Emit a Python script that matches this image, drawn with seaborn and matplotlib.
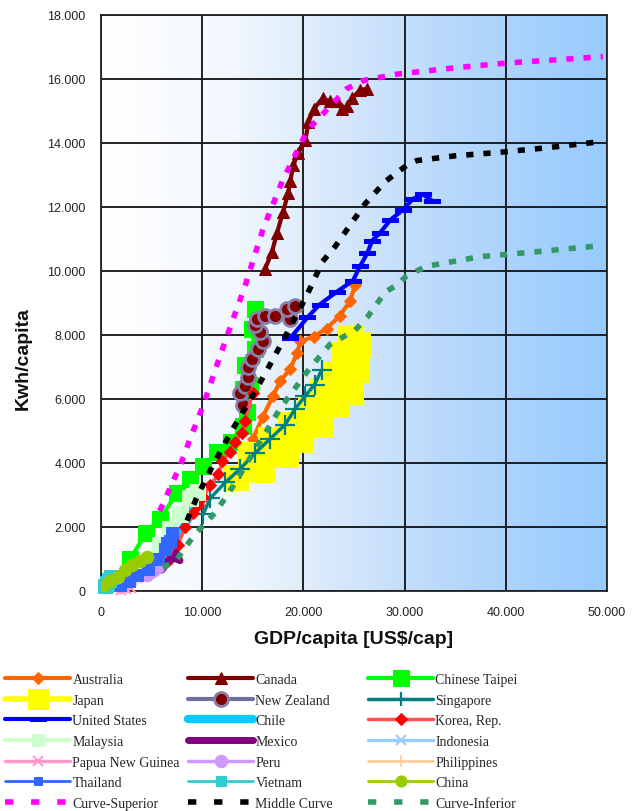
import numpy as np
import matplotlib
matplotlib.use("Agg")
import matplotlib.pyplot as plt
from matplotlib.colors import LinearSegmentedColormap
from matplotlib.ticker import FuncFormatter, MultipleLocator
import seaborn as sns

# ---- GDP per capita (US$/cap) and electricity use (kWh/capita) ----
australia_gdp = [15000, 16000, 17000, 17700, 18700, 19400, 19700, 21000, 22300, 23600, 24600, 25100]
australia_kwh = [4750, 5450, 6100, 6550, 6950, 7450, 7800, 7950, 8200, 8600, 9050, 9550]

canada_gdp = [16200, 16900, 17400, 18000, 18500, 18700, 19000, 19500, 20200, 20500, 21000, 21900,
              22600, 23300, 23800, 24300, 24800, 25600, 26300]
canada_kwh = [10050, 10600, 11200, 11850, 12450, 12800, 13300, 13700, 14100, 14650, 15050, 15400,
              15300, 15300, 15050, 15150, 15400, 15650, 15700]

taipei_gdp = [2900, 4400, 5800, 7500, 8800, 10100, 11500, 12800, 14000, 14400, 14000, 14700, 14200, 15200, 14900, 15200]
taipei_kwh = [1000, 1800, 2250, 3050, 3500, 3900, 4350, 4650, 5150, 5600, 6300, 6450, 7050, 7550, 8200, 8800]

japan_gdp = [13240, 15910, 14720, 18180, 16700, 19660, 18670, 21640, 20650, 23120, 21830, 24600,
             23120, 25100, 23910, 25290, 24600]
japan_kwh = [3560, 3810, 4280, 4280, 4750, 4750, 5220, 5220, 5690, 5840, 6250, 6250,
             6780, 6940, 7410, 7720, 7940]

nz_gdp = [14000, 13700, 14200, 14500, 14500, 14900, 15500, 16000, 15700, 15200, 15400, 16200, 17200, 18700, 18400, 19200]
nz_kwh = [5800, 6200, 6400, 6700, 7000, 7250, 7550, 7800, 8100, 8300, 8500, 8600, 8600, 8500, 8800, 8900]

singapore_gdp = [10100, 10800, 12300, 13700, 15200, 16700, 18200, 19200, 20200, 21100, 21800]
singapore_kwh = [2400, 2900, 3400, 3800, 4300, 4750, 5200, 5700, 6100, 6450, 6900]

us_gdp = [18700, 20400, 21600, 23300, 24900, 25600, 26300, 26800, 27600, 28600, 29800, 30800, 31800, 32700]
us_kwh = [7900, 8550, 8950, 9350, 9700, 10150, 10550, 10950, 11200, 11600, 11900, 12250, 12400, 12200]

chile_gdp = [6300, 7000, 7800, 8600, 9100]
chile_kwh = [1000, 1400, 1800, 2250, 2650]

korea_gdp = [6800, 7600, 8300, 9100, 9600, 10100, 10800, 11600, 12000, 12700, 13200, 13900, 14200, 15000]
korea_kwh = [1000, 1450, 2000, 2450, 2700, 2950, 3300, 3650, 4050, 4350, 4650, 4950, 5300, 6200]

malaysia_gdp = [4800, 5800, 6800, 7800, 8800, 9500]
malaysia_kwh = [850, 1450, 1950, 2400, 2900, 3100]

mexico_gdp = [6000, 6600, 7100, 7800, 7400]
mexico_kwh = [650, 900, 1050, 950, 1200]

indonesia_gdp = [1600, 2100, 2600, 3100]
indonesia_kwh = [120, 200, 300, 400]

png_gdp = [1500, 2000, 2500, 3000]
png_kwh = [60, 40, 70, 90]

peru_gdp = [4500, 4900, 5200, 5600]
peru_kwh = [500, 600, 650, 750]

philippines_gdp = [3600, 3900, 4100]
philippines_kwh = [350, 400, 450]

thailand_gdp = [1900, 2800, 3600, 4600, 5600, 6300, 6800, 7000, 6500]
thailand_kwh = [130, 300, 500, 700, 1000, 1300, 1550, 1800, 1500]

vietnam_gdp = [400, 600, 800, 1000]
vietnam_kwh = [150, 250, 350, 450]

china_gdp = [200, 900, 1700, 2400, 3100, 3900, 4500]
china_kwh = [150, 300, 450, 650, 800, 950, 1050]

# reference curves
superior_gdp = [5800, 6800, 7800, 8800, 10100, 11600, 13000, 14200, 15000, 16000, 17900, 20400,
                22500, 24300, 25900, 29200, 35000, 40100, 45000, 49600]
superior_kwh = [2500, 3200, 3900, 4750, 5800, 7200, 8450, 9500, 10300, 11300, 12800, 14400,
                15100, 15700, 15950, 16150, 16350, 16500, 16600, 16700]

middle_gdp = [8500, 9500, 11000, 13000, 14800, 16400, 18200, 20200, 21900, 23100, 24100, 26100,
              28100, 30200, 31200, 35000, 39100, 44000, 49600]
middle_kwh = [2200, 2950, 3900, 5050, 6000, 6900, 7950, 9150, 10300, 10750, 11200, 12100,
              12800, 13300, 13450, 13600, 13700, 13850, 14050]

inferior_gdp = [6100, 7300, 9100, 10100, 11300, 13000, 15000, 17700, 20600, 22600, 25100, 26300,
                28100, 29200, 30200, 32200, 37500, 43000, 49600]
inferior_kwh = [750, 900, 1700, 2050, 2450, 3250, 4300, 5700, 6950, 7700, 8150, 8550,
                9350, 9550, 9850, 10150, 10450, 10600, 10800]

# wide bar-shaped marker used for the United States series
bar_marker = [(-1.6, -0.45), (1.6, -0.45), (1.6, 0.45), (-1.6, 0.45), (-1.6, -0.45)]
dash = (0, (1.3, 1.8))

# (label, gdp, kwh, style) in legend order (row by row)
series = [
    ("Australia", australia_gdp, australia_kwh, dict(color="#ff6600", lw=3, marker="D", ms=6)),
    ("Canada", canada_gdp, canada_kwh, dict(color="#800000", lw=3, marker="^", ms=9)),
    ("Chinese Taipei", taipei_gdp, taipei_kwh, dict(color="#00ff00", lw=3, marker="s", ms=11)),
    ("Japan", japan_gdp, japan_kwh, dict(color="#ffff00", lw=11, marker="s", ms=18)),
    ("New Zealand", nz_gdp, nz_kwh, dict(color="#7070a0", lw=3, marker="o", ms=10,
                                         mfc="#800000", mec="#8a7fa8", mew=2)),
    ("Singapore", singapore_gdp, singapore_kwh, dict(color="#008080", lw=2.5, marker="+", ms=14, mew=1.6)),
    ("United States", us_gdp, us_kwh, dict(color="#0000ff", lw=3, marker=bar_marker, ms=11)),
    ("Chile", chile_gdp, chile_kwh, dict(color="#00ccff", lw=6)),
    ("Korea, Rep.", korea_gdp, korea_kwh, dict(color="#ff5050", lw=2.5, marker="D", ms=6, mfc="#ff0000", mec="#ff0000")),
    ("Malaysia", malaysia_gdp, malaysia_kwh, dict(color="#ccffcc", lw=3, marker="s", ms=11)),
    ("Mexico", mexico_gdp, mexico_kwh, dict(color="#800080", lw=5)),
    ("Indonesia", indonesia_gdp, indonesia_kwh, dict(color="#99ccff", lw=2.5, marker="x", ms=7, mew=1.5)),
    ("Papua New Guinea", png_gdp, png_kwh, dict(color="#ff99cc", lw=2.5, marker="x", ms=7, mew=1.5, clip_on=False)),
    ("Peru", peru_gdp, peru_kwh, dict(color="#cc99ff", lw=2.5, marker="o", ms=9)),
    ("Philippines", philippines_gdp, philippines_kwh, dict(color="#ffcc99", lw=2, marker="|", ms=8, mew=1.2)),
    ("Thailand", thailand_gdp, thailand_kwh, dict(color="#3366ff", lw=2, marker="s", ms=9)),
    ("Vietnam", vietnam_gdp, vietnam_kwh, dict(color="#33cccc", lw=2, marker="s", ms=10, clip_on=False)),
    ("China", china_gdp, china_kwh, dict(color="#99cc00", lw=6, marker="o", ms=9)),
    ("Curve-Superior", superior_gdp, superior_kwh, dict(color="#ff00ff", lw=4, ls=dash)),
    ("Middle Curve", middle_gdp, middle_kwh, dict(color="#000000", lw=4, ls=dash)),
    ("Curve-Inferior", inferior_gdp, inferior_kwh, dict(color="#339966", lw=4, ls=dash)),
]

# legend sample tweaks (thinner lines / smaller markers than in the plot)
legend_style = {
    "Japan": dict(lw=4, ms=15),
    "China": dict(lw=2, ms=8),
    "Thailand": dict(ms=6),
    "Vietnam": dict(ms=7),
    "Malaysia": dict(ms=9),
    "Canada": dict(ms=8),
    "Singapore": dict(ms=10),
}

sns.set_style("white")
plt.rcParams["font.family"] = ["Liberation Sans", "DejaVu Sans"]

fig = plt.figure(figsize=(6.37, 8.12), dpi=100)
ax = fig.add_axes([101 / 637, 1 - 592 / 812, 506 / 637, 576 / 812])

# white-to-blue horizontal gradient behind the plot area
bg = LinearSegmentedColormap.from_list(
    "bg", [(0.0, "#ffffff"), (0.25, "#f3f8fe"), (0.45, "#d9e9fb"), (0.7, "#b6d8fb"), (1.0, "#97cbff")])
ax.imshow(np.linspace(0, 1, 512)[None, :], extent=[0, 50000, 0, 18000], aspect="auto",
          cmap=bg, zorder=0.1, interpolation="bilinear")

handles = []
for label, gx, gy, style in series:
    st = dict(style)
    st.setdefault("mec", st["color"])
    st.setdefault("mfc", st["color"])
    sns.lineplot(x=gx, y=gy, ax=ax, sort=False, estimator=None, zorder=3, **st)
    handles.append(ax.lines[-1])
if ax.get_legend() is not None:
    ax.get_legend().remove()

ax.set_xlim(0, 50000)
ax.set_ylim(0, 18000)
ax.xaxis.set_major_locator(MultipleLocator(10000))
ax.yaxis.set_major_locator(MultipleLocator(2000))
dot_fmt = FuncFormatter(lambda v, p: f"{int(round(v)):,}".replace(",", "."))
ax.xaxis.set_major_formatter(dot_fmt)
ax.yaxis.set_major_formatter(dot_fmt)
ax.grid(True, color="#111111", lw=1.3)
ax.set_axisbelow(True)
for sp in ax.spines.values():
    sp.set_color("#222222")
    sp.set_linewidth(1.3)
ax.tick_params(axis="both", direction="out", length=5, width=1.2, color="#222222",
               labelsize=9, labelcolor="#222222", pad=6)

ax.set_xlabel("GDP/capita [US$/cap]", fontsize=14, fontweight="bold", color="#111111")
ax.set_ylabel("Kwh/capita", fontsize=14, fontweight="bold", color="#111111")
ax.xaxis.set_label_coords(0.5, (592 - 631) / 576)
ax.yaxis.set_label_coords((32 - 101) / 506, (592 - 359) / 576)

# legend: three columns filled row by row
col_x = [5, 188, 368]
for c in range(3):
    idx = list(range(c, len(series), 3))
    leg = fig.legend([handles[i] for i in idx], [series[i][0] for i in idx],
                     loc="upper left", bbox_to_anchor=(col_x[c] / 637, 1 - 674 / 812),
                     frameon=False, ncol=1, numpoints=1, handlelength=4.7,
                     handletextpad=0.15, labelspacing=0.55, borderpad=0, borderaxespad=0,
                     prop={"family": ["Liberation Serif", "DejaVu Serif"], "size": 10})
    for i, ln in zip(idx, leg.get_lines()):
        name = series[i][0]
        tweak = legend_style.get(name, {})
        if "lw" in tweak:
            ln.set_linewidth(tweak["lw"])
        if "ms" in tweak:
            ln.set_markersize(tweak["ms"])
        if name.startswith("Curve") or name == "Middle Curve":
            ln.set_dashes((1.5, 3.2))

fig.savefig("out.png", dpi=100)
